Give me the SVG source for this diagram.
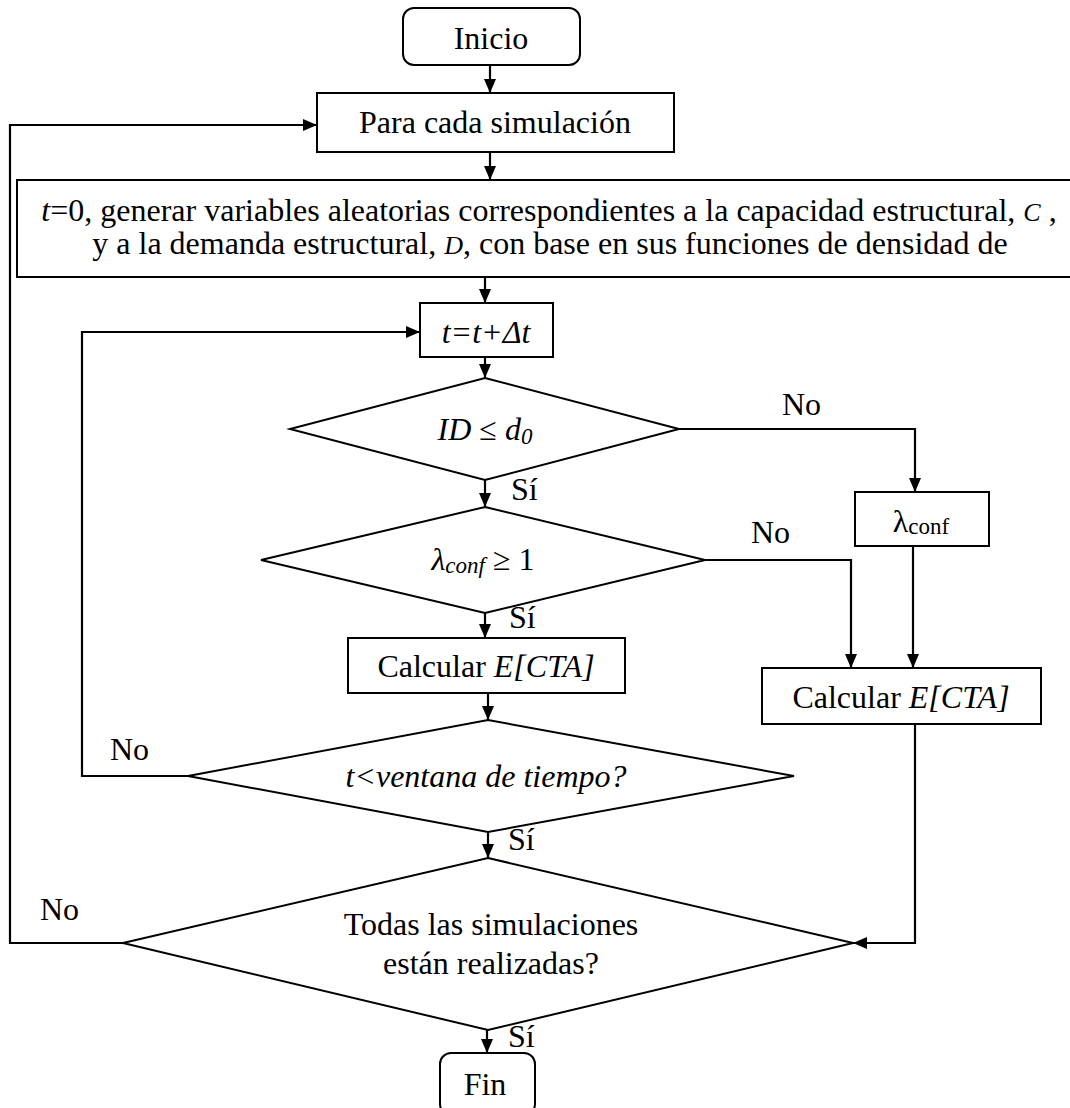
<svg xmlns="http://www.w3.org/2000/svg" width="1070" height="1108" viewBox="0 0 1070 1108">
<style>
text{font-family:'Liberation Serif','Times New Roman',serif;font-size:32px;fill:#000}
.c{text-anchor:middle}
.i{font-style:italic}
.box{fill:#fff;stroke:#000;stroke-width:2}
.ln{fill:none;stroke:#000;stroke-width:2.2}
</style>
<defs>
<marker id="ah" viewBox="0 0 14 12" refX="14" refY="6" markerWidth="14" markerHeight="12" markerUnits="userSpaceOnUse" orient="auto">
<path d="M0,0 L14,6 L0,12 z" fill="#000"/>
</marker>
</defs>
<rect width="1070" height="1108" fill="#fff"/>
<g id="connectors">
<path class="ln" d="M490,65 V93" marker-end="url(#ah)"/>
<path class="ln" d="M490,152 V180" marker-end="url(#ah)"/>
<path class="ln" d="M485,277 V303" marker-end="url(#ah)"/>
<path class="ln" d="M485,357 V378" marker-end="url(#ah)"/>
<path class="ln" d="M485,480 V507" marker-end="url(#ah)"/>
<path class="ln" d="M485,613 V638" marker-end="url(#ah)"/>
<path class="ln" d="M488,693 V720" marker-end="url(#ah)"/>
<path class="ln" d="M488,832 V858" marker-end="url(#ah)"/>
<path class="ln" d="M487,1030 V1053" marker-end="url(#ah)"/>
<path class="ln" d="M679,429 H915 V492" marker-end="url(#ah)"/>
<path class="ln" d="M705,560 H851 V668" marker-end="url(#ah)"/>
<path class="ln" d="M913,546 V668" marker-end="url(#ah)"/>
<path class="ln" d="M915,724 V943 H853" marker-end="url(#ah)"/>
<path class="ln" d="M188,776 H82 V332 H420" marker-end="url(#ah)"/>
<path class="ln" d="M123,943 H10 V125 H317" marker-end="url(#ah)"/>
</g>
<g id="labels">
<text x="782" y="415">No</text>
<text x="751" y="543">No</text>
<text x="110" y="760">No</text>
<text x="40" y="920">No</text>
<text x="511" y="500">Sí</text>
<text x="509" y="628">Sí</text>
<text x="508" y="850">Sí</text>
<text x="508" y="1047">Sí</text>
</g>
<g id="inicio">
<rect class="box" x="403" y="8" width="177" height="57" rx="11"/>
<text class="c" x="491" y="49">Inicio</text>
</g>
<g id="para">
<rect class="box" x="317" y="93" width="357" height="59"/>
<text class="c" x="495" y="133">Para cada simulación</text>
</g>
<g id="generar">
<rect class="box" x="17" y="180" width="1070" height="97"/>
<text class="c" x="549" y="221"><tspan class="i">t</tspan>=0, generar variables aleatorias correspondientes a la capacidad estructural, <tspan class="i" font-size="26">C</tspan> ,</text>
<text class="c" x="550" y="254">y a la demanda estructural, <tspan class="i" font-size="26">D</tspan>, con base en sus funciones de densidad de</text>
</g>
<g id="tstep">
<rect class="box" x="420" y="303" width="133" height="54"/>
<text class="c i" x="486" y="343">t=t+Δt</text>
</g>
<g id="d1">
<polygon class="box" points="485,378 679,429 485,480 290,429"/>
<text class="c" x="485" y="440"><tspan class="i">ID</tspan> ≤ <tspan class="i">d</tspan><tspan class="i" font-size="23" dy="4">0</tspan></text>
</g>
<g id="d2">
<polygon class="box" points="485,507 705,560 485,613 261,560"/>
<text class="c" x="483" y="570"><tspan class="i">λ</tspan><tspan class="i" font-size="23" dy="3">conf</tspan><tspan dy="-3"> ≥ 1</tspan></text>
</g>
<g id="lambda">
<rect class="box" x="855" y="492" width="134" height="54"/>
<text class="c" x="921" y="532">λ<tspan font-size="23" dy="2">conf</tspan></text>
</g>
<g id="calc1">
<rect class="box" x="348" y="638" width="277" height="55"/>
<text class="c" x="486" y="677">Calcular <tspan class="i">E[CTA]</tspan></text>
</g>
<g id="calc2">
<rect class="box" x="762" y="668" width="279" height="56"/>
<text class="c" x="901" y="708">Calcular <tspan class="i">E[CTA]</tspan></text>
</g>
<g id="d3">
<polygon class="box" points="488,720 794,776 488,832 188,776"/>
<text class="c i" x="486" y="787">t&lt;ventana de tiempo?</text>
</g>
<g id="d4">
<polygon class="box" points="488,858 853,943 488,1030 123,943"/>
<text class="c" x="491" y="935">Todas las simulaciones</text>
<text class="c" x="491" y="974">están realizadas?</text>
</g>
<g id="fin">
<rect class="box" x="440" y="1053" width="95" height="62" rx="11"/>
<text class="c" x="485" y="1095">Fin</text>
</g>
</svg>
